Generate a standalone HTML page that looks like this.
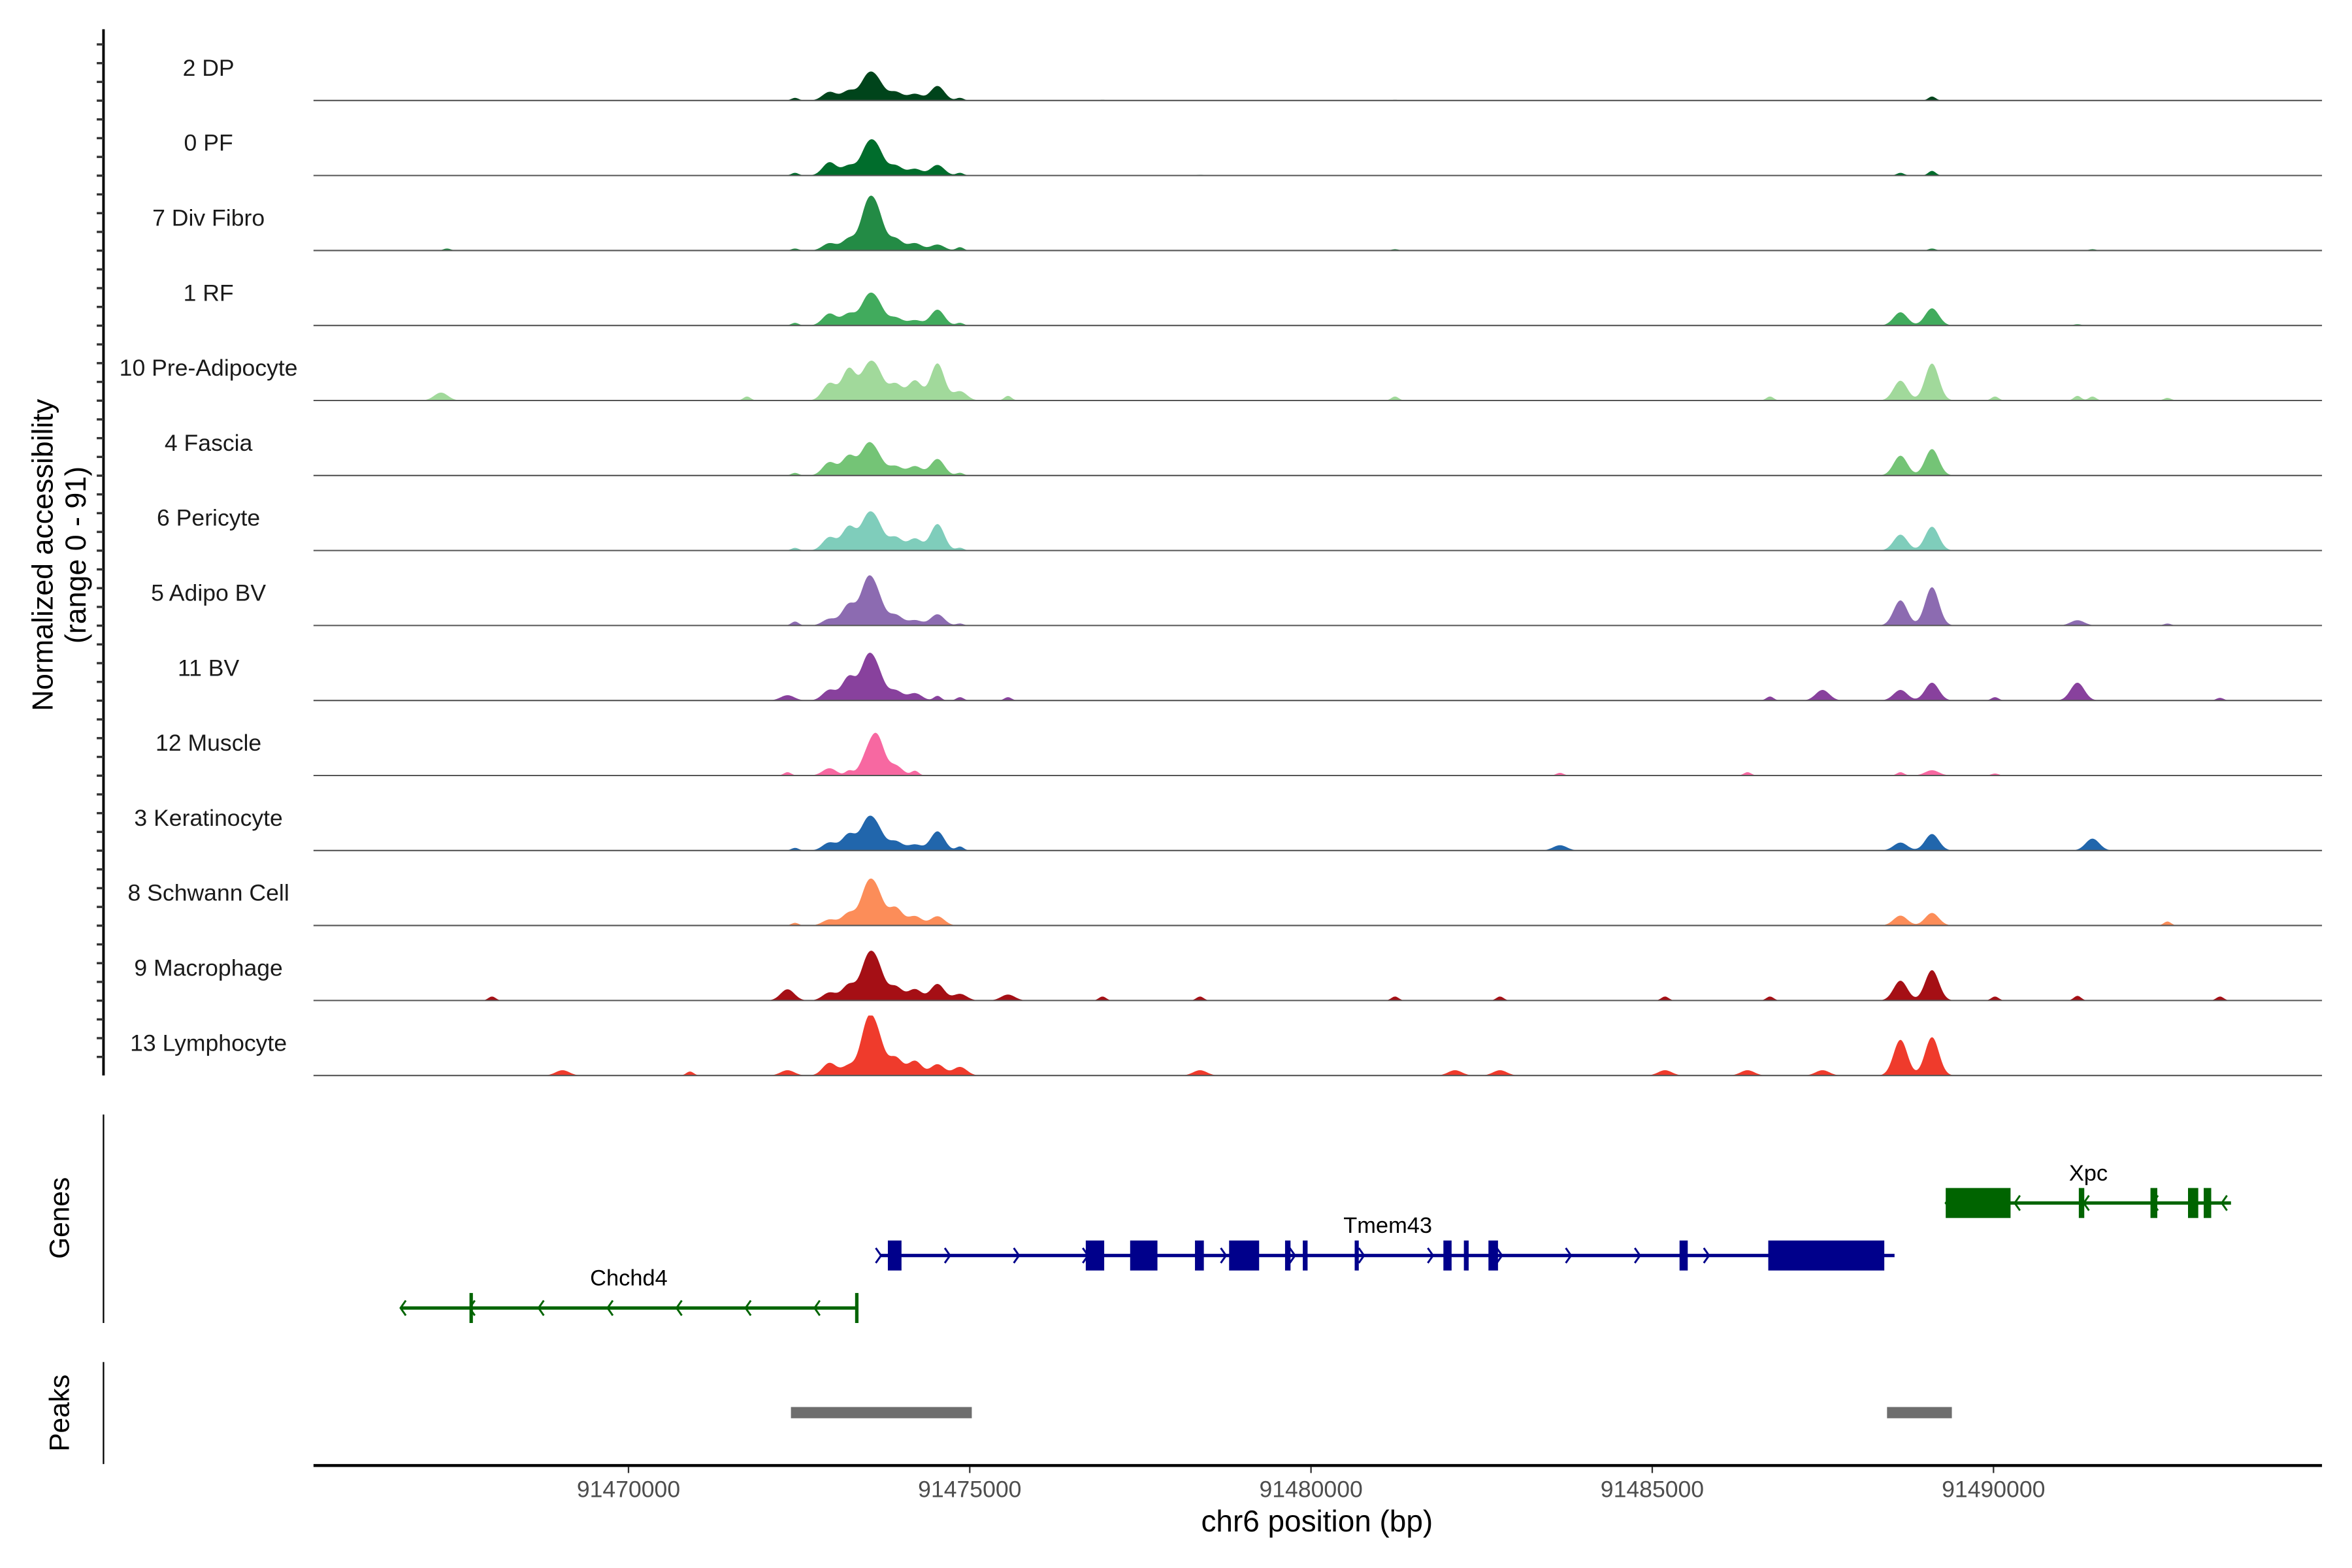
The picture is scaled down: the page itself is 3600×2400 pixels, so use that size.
<!DOCTYPE html>
<html><head><meta charset="utf-8"><style>
html,body{margin:0;padding:0;background:#fff;overflow:hidden;}
svg{display:block;}
text{font-family:"Liberation Sans",Arial,sans-serif;}
</style></head><body>
<svg id="chart" xmlns="http://www.w3.org/2000/svg" width="3600" height="2400" viewBox="0 0 1568 1045.33">
<rect x="0" y="0" width="1568" height="1046" fill="#fff"/>
<g id="tracks"></g>
<g id="yaxis"></g>
<text transform="translate(35,370) rotate(-90)" text-anchor="middle" font-size="19.5" fill="#000">Normalized accessibility</text>
<text transform="translate(57,370) rotate(-90)" text-anchor="middle" font-size="19.5" fill="#000">(range 0 - 91)</text>
<line x1="69" y1="743" x2="69" y2="882" stroke="#000" stroke-width="1"/>
<text transform="translate(46,812) rotate(-90)" text-anchor="middle" font-size="18.5" fill="#000">Genes</text>
<line x1="69" y1="908" x2="69" y2="976" stroke="#000" stroke-width="1"/>
<text transform="translate(46,942) rotate(-90)" text-anchor="middle" font-size="18.5" fill="#000">Peaks</text>
<g id="genes"></g>
<g id="peaks"></g>
<g id="xaxis"></g>
<text x="878" y="1021" text-anchor="middle" font-size="20" fill="#000">chr6 position (bp)</text>
</svg>
<script>
const NS = "http://www.w3.org/2000/svg";
// ---- data ----
const trackNames = ["2 DP","0 PF","7 Div Fibro","1 RF","10 Pre-Adipocyte","4 Fascia","6 Pericyte","5 Adipo BV","11 BV","12 Muscle","3 Keratinocyte","8 Schwann Cell","9 Macrophage","13 Lymphocyte"];
const trackColors = ["#00441b","#006d2c","#238b45","#41ab5d","#a1d99b","#74c476","#7fcdbb","#8c6bb1","#88419d","#f768a1","#2166ac","#fc8d59","#a50f15","#ef3b2c"];
const xTicks = [91470000,91475000,91480000,91485000,91490000];
const xTickLabels = ["91470000","91475000","91480000","91485000","91490000"];
// peak positions (bp) and heights (normalized 0-91) per track
const peakPos = [
 [91472440,91472945,91473231,91473495,91473648,91473912,91474198,91474527,91474857,91489099,91476945,91481231],
 [91472440,91472945,91473231,91473495,91473648,91473912,91474198,91474527,91474857,91488637,91489099,91478374],
 [91472440,91472945,91473231,91473495,91473648,91473912,91474198,91474527,91474857,91489099,91467341,91481231,91491450],
 [91472440,91472945,91473231,91473495,91473648,91473912,91474198,91474527,91474857,91488637,91489099,91491230],
 [91467253,91471736,91472945,91473231,91473495,91473648,91473912,91474198,91474527,91474857,91475560,91481231,91486725,91488637,91489099,91490022,91491230,91491450,91492549],
 [91472440,91472945,91473231,91473495,91473648,91473912,91474198,91474527,91474857,91488637,91489099],
 [91472440,91472945,91473231,91473495,91473648,91473912,91474198,91474527,91474857,91488637,91489099],
 [91472440,91472945,91473231,91473495,91473648,91473912,91474198,91474527,91474857,91488637,91489099,91491230,91492549],
 [91472330,91472945,91473231,91473495,91473648,91473912,91474198,91474527,91474857,91475560,91486725,91487495,91488637,91489099,91490022,91491230,91493319],
 [91472330,91472945,91473231,91473495,91473648,91473912,91474198,91483648,91486396,91488637,91489099,91490022],
 [91472440,91472945,91473231,91473495,91473648,91473912,91474198,91474527,91474857,91483648,91488637,91489099,91491450],
 [91472440,91472945,91473231,91473495,91473648,91473912,91474198,91474527,91488637,91489099,91492549],
 [91468000,91472330,91472945,91473231,91473495,91473648,91473912,91474198,91474527,91474857,91475560,91476945,91478374,91481231,91482769,91485187,91486725,91488637,91489099,91490022,91491230,91493319],
 [91469033,91470901,91472330,91472945,91473231,91473495,91473648,91473912,91474198,91474527,91474857,91478374,91482110,91482769,91485187,91486396,91487495,91488637,91489099]
];
const peakVal = [
 [4,13,15,32,26,13,10,22,4,6,1,1],
 [4,20,15,38,35,15,10,16,4,4,7,1],
 [3,11,18,60,50,18,11,9,5,3,3,2,2],
 [4,18,18,36,30,12,8,24,4,20,26,2],
 [12,6,26,48,42,38,25,30,56,14,7,6,6,30,56,6,7,6,4],
 [4,20,30,40,25,14,14,25,4,30,40],
 [4,20,36,44,34,20,18,40,4,24,36],
 [6,10,32,60,38,16,8,17,3,38,58,8,3],
 [8,16,36,56,38,15,11,7,5,5,6,16,16,27,5,27,4],
 [5,11,7,27,54,15,7,4,5,5,8,3],
 [4,12,25,40,29,14,9,29,6,8,12,25,18],
 [4,9,19,52,42,27,14,14,15,19,6],
 [6,17,12,24,54,46,21,17,25,10,9,6,6,6,6,6,6,30,46,6,7,6],
 [8,6,8,19,15,70,52,27,22,17,13,8,8,8,8,8,8,54,58]
];
// gene models
const geneNames = ["Chchd4","Tmem43","Xpc"];
const geneStart = [91466660,91473700,91489300];
const geneEnd = [91473350,91488550,91493480];
const geneStrand = [-1,1,-1];
const geneRow = [2,1,0];
const exonStarts = [
 [91467670,91473320],
 [91473800,91476700,91477350,91478300,91478800,91479620,91479880,91480640,91481940,91482240,91482600,91485400,91486700],
 [91489300,91491250,91492300,91492850,91493080]
];
const exonEnds = [
 [91467720,91473370],
 [91474000,91476970,91477750,91478430,91479240,91479700,91479950,91480700,91482060,91482310,91482740,91485520,91488400],
 [91490250,91491330,91492400,91493000,91493190]
];
const peakRegionStart = [91472380,91488440];
const peakRegionEnd = [91475030,91489390];

// ---- scales ----
const X0 = 209, X1 = 1548;
const BP0 = 91470000, PX0 = 419, PXPERBP = 227.5/5000;
function xScale(bp){ return PX0 + (bp - BP0) * PXPERBP; }
const TRACK_TOP_BASE = 67, TRACK_STEP = 50, TRACK_H = 40, YMAX = 91;
function yScale(v, base){ return base - (v / YMAX) * TRACK_H; }

const tracksG = document.getElementById("tracks");
for (let t = 0; t < trackNames.length; t++) {
  const base = TRACK_TOP_BASE + t * TRACK_STEP;
  const g = document.createElementNS(NS, "g");
  
  
  const pos = peakPos[t].map(xScale), val = peakVal[t];
  let d = "M" + X0 + "," + base;
  for (let x = X0; x <= X1; x += 0.5) {
    let v = 0;
    for (let i = 0; i < pos.length; i++) {
      const w = val[i] < 8 ? 3.5 : 6.5;
      const u = (x - pos[i]) / w;
      if (Math.abs(u) < 4) v += val[i] * Math.exp(-u*u);
    }
    if (v < 0.4) v = 0;
    d += "L" + x.toFixed(1) + "," + yScale(Math.min(v, YMAX), base).toFixed(2);
  }
  d += "L" + X1 + "," + base + "Z";
  const area = document.createElementNS(NS, "path");
  
  
  area.setAttribute("d", d);
  area.setAttribute("fill", trackColors[t]);
  g.appendChild(area);
  const bl = document.createElementNS(NS, "line");
  
  
  bl.setAttribute("x1", X0); bl.setAttribute("x2", X1);
  bl.setAttribute("y1", base); bl.setAttribute("y2", base);
  bl.setAttribute("stroke", "#555"); bl.setAttribute("stroke-width", "0.9");
  g.appendChild(bl);
  const lab = document.createElementNS(NS, "text");
  
  
  lab.setAttribute("x", 139); lab.setAttribute("y", base - 16.5);
  lab.setAttribute("text-anchor", "middle"); lab.setAttribute("font-size", "15.5");
  lab.setAttribute("fill", "#1a1a1a");
  lab.textContent = trackNames[t];
  g.appendChild(lab);
  tracksG.appendChild(g);
}

// y axis with minor ticks
const ya = document.getElementById("yaxis");
const yl = document.createElementNS(NS, "line");


yl.setAttribute("x1", 69); yl.setAttribute("x2", 69); yl.setAttribute("y1", 19.5); yl.setAttribute("y2", 717);
yl.setAttribute("stroke", "#000"); yl.setAttribute("stroke-width", "1.7");
ya.appendChild(yl);
for (let y = 29.6; y < 717; y += 12.5) {
  const tk = document.createElementNS(NS, "line");
  
  
  tk.setAttribute("x1", 64.5); tk.setAttribute("x2", 69); tk.setAttribute("y1", y); tk.setAttribute("y2", y);
  tk.setAttribute("stroke", "#333"); tk.setAttribute("stroke-width", "1.5");
  ya.appendChild(tk);
}

// genes
const gG = document.getElementById("genes");
const rowY = [802, 837, 872];
const geneCols = {"-1":"#006400","1":"#00008b"};
for (let i = 0; i < geneNames.length; i++) {
  const y = rowY[geneRow[i]], col = geneCols[geneStrand[i]];
  const g = document.createElementNS(NS, "g");
  
  
  const ln = document.createElementNS(NS, "line");
  
  
  const xs = xScale(geneStart[i]), xe = xScale(geneEnd[i]);
  ln.setAttribute("x1", xs); ln.setAttribute("x2", xe); ln.setAttribute("y1", y); ln.setAttribute("y2", y);
  ln.setAttribute("stroke", col); ln.setAttribute("stroke-width", "2.2");
  g.appendChild(ln);
  for (let x = xs; x <= xe + 0.5; x += 46) {
    const ch = document.createElementNS(NS, "path");
    
    
    const s = geneStrand[i];
    ch.setAttribute("d", `M${x - 3.5*s},${y-5} L${x},${y} L${x - 3.5*s},${y+5}`);
    ch.setAttribute("fill", "none"); ch.setAttribute("stroke", col); ch.setAttribute("stroke-width", "1.3");
    g.appendChild(ch);
  }
  for (let e = 0; e < exonStarts[i].length; e++) {
    const r = document.createElementNS(NS, "rect");
    
    
    const a = xScale(exonStarts[i][e]), b = xScale(exonEnds[i][e]);
    r.setAttribute("x", a); r.setAttribute("width", Math.max(b - a, 1.8));
    r.setAttribute("y", y - 10); r.setAttribute("height", 20);
    r.setAttribute("fill", col);
    g.appendChild(r);
  }
  const tx = document.createElementNS(NS, "text");
  
  
  tx.setAttribute("x", (xs + xe) / 2); tx.setAttribute("y", y - 15);
  tx.setAttribute("text-anchor", "middle"); tx.setAttribute("font-size", "15");
  tx.setAttribute("fill", "#000");
  tx.textContent = geneNames[i];
  g.appendChild(tx);
  gG.appendChild(g);
}

// peaks
const pG = document.getElementById("peaks");
for (let i = 0; i < peakRegionStart.length; i++) {
  const r = document.createElementNS(NS, "rect");
  
  
  const a = xScale(peakRegionStart[i]), b = xScale(peakRegionEnd[i]);
  r.setAttribute("x", a); r.setAttribute("width", b - a);
  r.setAttribute("y", 938); r.setAttribute("height", 7.5);
  r.setAttribute("fill", "#6e6e6e");
  pG.appendChild(r);
}

// x axis
const xa = document.getElementById("xaxis");
const xl = document.createElementNS(NS, "line");


xl.setAttribute("x1", X0); xl.setAttribute("x2", X1); xl.setAttribute("y1", 977); xl.setAttribute("y2", 977);
xl.setAttribute("stroke", "#000"); xl.setAttribute("stroke-width", "2");
xa.appendChild(xl);
for (let i = 0; i < xTicks.length; i++) {
  const x = xScale(xTicks[i]);
  const tk = document.createElementNS(NS, "line");
  
  
  tk.setAttribute("x1", x); tk.setAttribute("x2", x); tk.setAttribute("y1", 978); tk.setAttribute("y2", 982);
  tk.setAttribute("stroke", "#333"); tk.setAttribute("stroke-width", "1");
  xa.appendChild(tk);
  const lb = document.createElementNS(NS, "text");
  
  
  lb.setAttribute("x", x); lb.setAttribute("y", 998);
  lb.setAttribute("text-anchor", "middle"); lb.setAttribute("font-size", "15.5");
  lb.setAttribute("fill", "#4d4d4d");
  lb.textContent = xTickLabels[i];
  xa.appendChild(lb);
}
</script>
</body></html>
